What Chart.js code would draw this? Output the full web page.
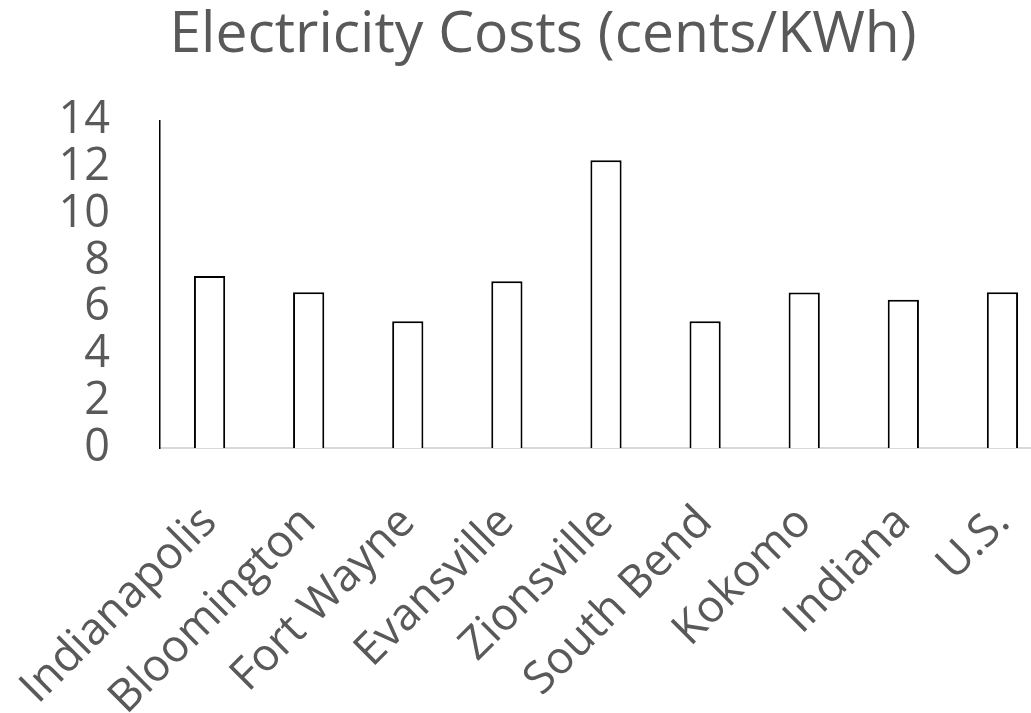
<!DOCTYPE html>
<html>
<head>
<meta charset="utf-8">
<script src="https://cdn.jsdelivr.net/npm/chart.js@4/dist/chart.umd.min.js"></script>
<style>
  html, body { margin: 0; padding: 0; background: #fff; overflow: hidden; }
  #wrap { width: 1086px; height: 713px; }
</style>
</head>
<body>
<div id="wrap"><canvas id="costChart"></canvas></div>
<script>
// 都市ごとの電気料金
const cities = ["Indianapolis", "Bloomington", "Fort Wayne", "Evansville", "Zionsville",
                "South Bend", "Kokomo", "Indiana", "U.S."];
const costs = [7.35, 6.66, 5.42, 7.13, 12.3, 5.42, 6.65, 6.34, 6.66];
const yTicks = [0, 2, 4, 6, 8, 10, 12, 14];

const textColor = "#595959";
const fontFamily = "'Open Sans', sans-serif";

const ctx = document.getElementById("costChart").getContext("2d");
new Chart(ctx, {
  type: "bar",
  data: {
    labels: cities,
    datasets: [{
      data: costs,
      backgroundColor: "#fff",
      borderColor: "#000",
      borderWidth: 2,
      barPercentage: 0.315,
      categoryPercentage: 1
    }]
  },
  options: {
    responsive: true,
    maintainAspectRatio: false,
    animation: false,
    layout: {
      padding: { left: 34, right: 34, top: 0, bottom: 0 }
    },
    plugins: {
      legend: { display: false },
      tooltip: { enabled: false },
      title: {
        display: true,
        text: "Electricity Costs (cents/KWh)",
        color: textColor,
        font: { family: fontFamily, size: 57, weight: "normal", lineHeight: 1.2 },
        padding: { top: 2, bottom: 50 }
      }
    },
    scales: {
      x: {
        grid: { display: false, drawTicks: false },
        border: { display: true, color: "#d9d9d9", width: 2 },
        ticks: {
          color: textColor,
          font: { family: fontFamily, size: 45 },
          minRotation: 45,
          maxRotation: 45,
          autoSkip: false,
          padding: 48
        },
        afterFit(scale) {
          scale.height = 265;
          // 回転ラベルの余白は無視する
          scale.paddingLeft = 0;
          scale.paddingRight = 0;
        }
      },
      y: {
        min: 0,
        max: 14,
        afterBuildTicks(scale) {
          scale.ticks = yTicks.map(v => ({ value: v }));
        },
        grid: { display: false, drawTicks: false },
        border: { display: true, color: "#000", width: 1.5 },
        ticks: {
          color: textColor,
          font: { family: fontFamily, size: 45, lineHeight: 1 },
          autoSkip: false,
          padding: 50
        },
        afterFit(scale) { scale.width = 126; }
      }
    }
  }
});
</script>
</body>
</html>
